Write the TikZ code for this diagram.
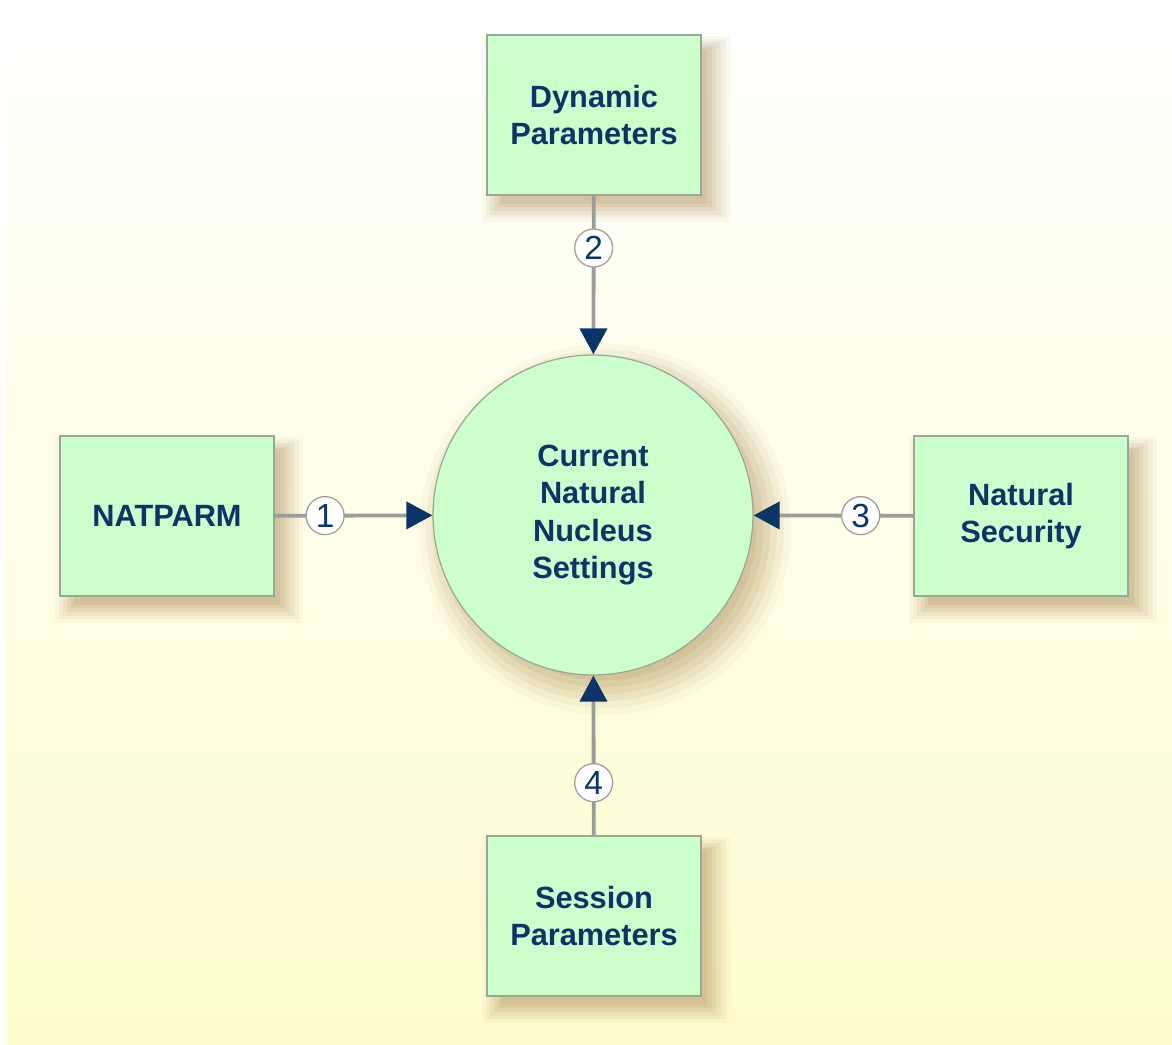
\documentclass[tikz,border=0pt]{standalone}
\usepackage{fontspec}
\setmainfont{Liberation Sans}
\usetikzlibrary{arrows.meta,shadows}

\definecolor{navy}{HTML}{0B3468}
\definecolor{boxgreen}{HTML}{CCFFCC}
\definecolor{boxline}{HTML}{98A898}
\definecolor{wire}{HTML}{9C9C9C}
\definecolor{bgyellow}{HTML}{FFFDCF}
\definecolor{shadowtan}{HTML}{A07A3E}

\tikzset{
  softshadow/.style={
    drop shadow={shadow xshift=6pt,shadow yshift=-7pt,fill=shadowtan,opacity=.05,shadow scale=1.16},
    drop shadow={shadow xshift=6pt,shadow yshift=-7pt,fill=shadowtan,opacity=.07,shadow scale=1.12},
    drop shadow={shadow xshift=6pt,shadow yshift=-7pt,fill=shadowtan,opacity=.09,shadow scale=1.08},
    drop shadow={shadow xshift=6pt,shadow yshift=-7pt,fill=shadowtan,opacity=.10,shadow scale=1.04},
    drop shadow={shadow xshift=6pt,shadow yshift=-7pt,fill=shadowtan,opacity=.11,shadow scale=1.00},
    drop shadow={shadow xshift=6pt,shadow yshift=-7pt,fill=shadowtan,opacity=.11,shadow scale=0.96}},
  source/.style={rectangle,draw=boxline,fill=boxgreen,line width=0.7pt,
    minimum width=4.28cm,minimum height=3.2cm,align=center,text=navy,
    font=\bfseries\fontsize{17.5}{21}\selectfont,softshadow},
  hub/.style={circle,draw=boxline,fill=boxgreen,line width=0.7pt,
    minimum size=6.4cm,align=center,text=navy,
    font=\bfseries\fontsize{17.5}{21.2}\selectfont,softshadow},
  feed/.style={draw=wire,line width=2.2pt,
    -{Triangle[length=0.52cm,width=0.54cm,color=navy]}},
  badge/.style={circle,draw=wire,fill=white,line width=0.7pt,minimum size=0.76cm,
    inner sep=0pt,text=navy,font=\fontsize{19}{19}\selectfont}
}

\begin{document}
\begin{tikzpicture}[x=0.02cm,y=-0.02cm]
  \useasboundingbox (0,0) rectangle (1172,1044);
  \shade[top color=white,bottom color=bgyellow] (6,0) rectangle (1172,1044);

  \node[hub] (nucleus) at (593,515) {Current\\Natural\\Nucleus\\Settings};
  \node[source] (dynparm) at (594,115) {Dynamic\\Parameters};
  \node[source] (natparm) at (167,516) {NATPARM};
  \node[source] (natsec) at (1021,516) {Natural\\Security};
  \node[source] (sessparm) at (594,916) {Session\\Parameters};

  \draw[feed] (natparm) -- node[badge,pos=.32] (b1) {1} (nucleus);
  \draw[feed] (dynparm) -- node[badge,pos=.33] (b2) {2} (nucleus);
  \draw[feed] (natsec) -- node[badge,pos=.33] (b3) {3} (nucleus);
  \draw[feed] (sessparm) -- node[badge,pos=.33] (b4) {4} (nucleus);
\end{tikzpicture}
\end{document}
